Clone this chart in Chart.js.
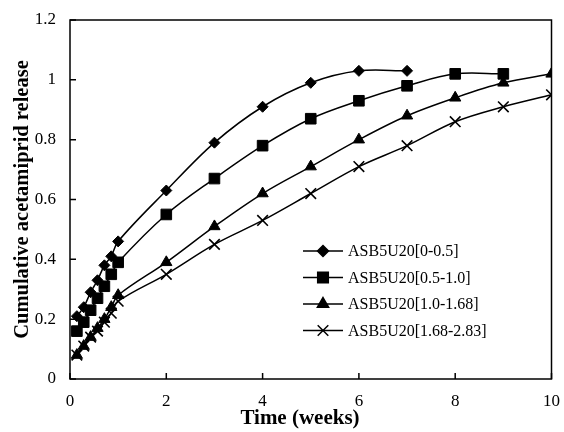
<!DOCTYPE html>
<html lang="en">
<head>
<meta charset="UTF-8">
<title>Cumulative acetamiprid release</title>
<script src="https://cdn.jsdelivr.net/npm/chart.js"></script>
<style>
    body { margin: 0; background: #fff; }
    #wrap { width: 564px; height: 432px; }
</style>
</head>
<body>
<div id="wrap"><canvas id="releaseChart"></canvas></div>
<script>
    // time points in weeks (first week sampled daily)
    const weeks = [1/7, 2/7, 3/7, 4/7, 5/7, 6/7, 1, 2, 3, 4, 5, 6, 7, 8, 9, 10];

    const labels = ['ASB5U20[0-0.5]', 'ASB5U20[0.5-1.0]', 'ASB5U20[1.0-1.68]', 'ASB5U20[1.68-2.83]'];
    const release05 = [0.21, 0.24, 0.29, 0.33, 0.38, 0.41, 0.46, 0.63, 0.79, 0.91, 0.99, 1.03, 1.03];
    const release10 = [0.16, 0.19, 0.23, 0.27, 0.31, 0.35, 0.39, 0.55, 0.67, 0.78, 0.87, 0.93, 0.98, 1.02, 1.02];
    const release168 = [0.08, 0.11, 0.14, 0.17, 0.20, 0.24, 0.28, 0.39, 0.51, 0.62, 0.71, 0.80, 0.88, 0.94, 0.99, 1.02];
    const release283 = [0.08, 0.11, 0.14, 0.16, 0.19, 0.22, 0.26, 0.35, 0.45, 0.53, 0.62, 0.71, 0.78, 0.86, 0.91, 0.95];
    const markers = ['rectRot', 'rect', 'triangle', 'crossRot'];
    const markerSize = [5.5, 7.5, 6.5, 7.5];

    const xTicks = [0, 2, 4, 6, 8, 10];
    const yTicks = [0, 0.2, 0.4, 0.6, 0.8, 1, 1.2];

    const serif = '"Liberation Serif", "Times New Roman", serif';

    function points(values) {
        return values.map((v, i) => ({ x: weeks[i], y: v }));
    }

    const series = [release05, release10, release168, release283];
    const datasets = series.map((vals, i) => ({
        label: labels[i],
        data: points(vals),
        borderColor: '#000',
        backgroundColor: '#000',
        borderWidth: 1.5,
        pointStyle: markers[i],
        pointRadius: markerSize[i],
        pointBorderWidth: markers[i] === 'crossRot' ? 1.6 : 1,
        tension: 0.35
    }));

    // frame, inward ticks, x title and legend
    const framePlugin = {
        id: 'frame',
        afterDraw(chart) {
            const ctx = chart.ctx;
            const a = chart.chartArea;
            const xs = chart.scales.x, ys = chart.scales.y;
            ctx.save();
            ctx.strokeStyle = '#000';
            ctx.lineWidth = 1.5;
            ctx.strokeRect(a.left, a.top, a.right - a.left, a.bottom - a.top);
            ctx.beginPath();
            xTicks.forEach(t => {
                const px = xs.getPixelForValue(t);
                ctx.moveTo(px, a.bottom);
                ctx.lineTo(px, a.bottom - 6);
            });
            yTicks.forEach(t => {
                const py = ys.getPixelForValue(t);
                ctx.moveTo(a.left, py);
                ctx.lineTo(a.left + 6, py);
            });
            ctx.stroke();

            ctx.fillStyle = '#000';
            ctx.textAlign = 'center';
            ctx.textBaseline = 'middle';
            ctx.font = 'bold 21px ' + serif;
            ctx.fillText('Time (weeks)', 300, 419);

            // legend
            ctx.textAlign = 'left';
            ctx.font = '16px ' + serif;
            const lx = 303, ly = 251, gap = 26.5;
            chart.data.datasets.forEach((ds, i) => {
                const y = ly + i * gap;
                ctx.lineWidth = 1.5;
                ctx.beginPath();
                ctx.moveTo(lx, y);
                ctx.lineTo(lx + 40, y);
                ctx.stroke();
                Chart.helpers.drawPoint(ctx, {
                    pointStyle: ds.pointStyle,
                    radius: ds.pointRadius,
                    borderWidth: ds.pointBorderWidth,
                    rotation: 0
                }, lx + 20, y);
                ctx.fillText(ds.label, lx + 45, y + 1);
            });
            ctx.restore();
        }
    };

    new Chart(document.getElementById('releaseChart'), {
        type: 'line',
        data: { datasets },
        options: {
            responsive: true,
            maintainAspectRatio: false,
            animation: false,
            layout: { padding: { top: 20, right: 11, left: 0, bottom: 0 } },
            plugins: {
                legend: { display: false },
                tooltip: { enabled: false }
            },
            scales: {
                x: {
                    type: 'linear',
                    min: 0,
                    max: 10,
                    afterBuildTicks: s => { s.ticks = xTicks.map(v => ({ value: v })); },
                    afterFit: s => { s.height = 53; },
                    grid: { display: false },
                    border: { display: false },
                    ticks: { color: '#000', padding: 4, font: { family: serif, size: 17 } }
                },
                y: {
                    min: 0,
                    max: 1.2,
                    afterBuildTicks: s => { s.ticks = yTicks.map(v => ({ value: v })); },
                    afterFit: s => { s.width = 70; },
                    grid: { display: false },
                    border: { display: false },
                    ticks: {
                        color: '#000',
                        padding: 6,
                        font: { family: serif, size: 17 },
                        callback: v => String(+v.toFixed(1))
                    },
                    title: {
                        display: true,
                        text: 'Cumulative acetamiprid release',
                        color: '#000',
                        padding: { top: 10, bottom: 0 },
                        font: { family: serif, size: 20.5, weight: 'bold' }
                    }
                }
            }
        },
        plugins: [framePlugin]
    });
</script>
</body>
</html>
